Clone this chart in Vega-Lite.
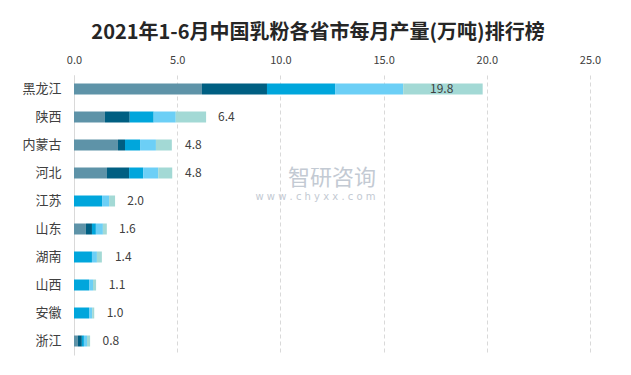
{
  "$schema": "https://vega.github.io/schema/vega-lite/v6.json",
  "width": 516,
  "height": 280,
  "autosize": {"type": "none"},
  "padding": {"left": 74, "top": 75, "right": 41, "bottom": 20},
  "background": "white",
  "config": {
    "font": "Noto Sans CJK SC",
    "view": {"stroke": null}
  },
  "title": {
    "text": "2021年1-6月中国乳粉各省市每月产量(万吨)排行榜",
    "font": "Noto Sans CJK SC",
    "fontSize": 20,
    "fontWeight": "bold",
    "color": "#262626",
    "anchor": "middle",
    "frame": "group",
    "dx": -14,
    "offset": 11
  },
  "datasets": {
    "parts": [
      {"province": "黑龙江", "month": "1-2月", "value": 6.2},
      {"province": "黑龙江", "month": "3月", "value": 3.15},
      {"province": "黑龙江", "month": "4月", "value": 3.3},
      {"province": "黑龙江", "month": "5月", "value": 3.3},
      {"province": "黑龙江", "month": "6月", "value": 3.85},
      {"province": "陕西", "month": "1-2月", "value": 1.5},
      {"province": "陕西", "month": "3月", "value": 1.2},
      {"province": "陕西", "month": "4月", "value": 1.16},
      {"province": "陕西", "month": "5月", "value": 1.07},
      {"province": "陕西", "month": "6月", "value": 1.47},
      {"province": "内蒙古", "month": "1-2月", "value": 2.13},
      {"province": "内蒙古", "month": "3月", "value": 0.34},
      {"province": "内蒙古", "month": "4月", "value": 0.73},
      {"province": "内蒙古", "month": "5月", "value": 0.77},
      {"province": "内蒙古", "month": "6月", "value": 0.77},
      {"province": "河北", "month": "1-2月", "value": 1.6},
      {"province": "河北", "month": "3月", "value": 1.07},
      {"province": "河北", "month": "4月", "value": 0.68},
      {"province": "河北", "month": "5月", "value": 0.73},
      {"province": "河北", "month": "6月", "value": 0.68},
      {"province": "江苏", "month": "1-2月", "value": 0},
      {"province": "江苏", "month": "3月", "value": 0},
      {"province": "江苏", "month": "4月", "value": 1.36},
      {"province": "江苏", "month": "5月", "value": 0.34},
      {"province": "江苏", "month": "6月", "value": 0.29},
      {"province": "山东", "month": "1-2月", "value": 0.58},
      {"province": "山东", "month": "3月", "value": 0.29},
      {"province": "山东", "month": "4月", "value": 0.19},
      {"province": "山东", "month": "5月", "value": 0.34},
      {"province": "山东", "month": "6月", "value": 0.19},
      {"province": "湖南", "month": "1-2月", "value": 0},
      {"province": "湖南", "month": "3月", "value": 0},
      {"province": "湖南", "month": "4月", "value": 0.87},
      {"province": "湖南", "month": "5月", "value": 0.24},
      {"province": "湖南", "month": "6月", "value": 0.24},
      {"province": "山西", "month": "1-2月", "value": 0},
      {"province": "山西", "month": "3月", "value": 0},
      {"province": "山西", "month": "4月", "value": 0.73},
      {"province": "山西", "month": "5月", "value": 0.19},
      {"province": "山西", "month": "6月", "value": 0.15},
      {"province": "安徽", "month": "1-2月", "value": 0},
      {"province": "安徽", "month": "3月", "value": 0},
      {"province": "安徽", "month": "4月", "value": 0.73},
      {"province": "安徽", "month": "5月", "value": 0.15},
      {"province": "安徽", "month": "6月", "value": 0.1},
      {"province": "浙江", "month": "1-2月", "value": 0.19},
      {"province": "浙江", "month": "3月", "value": 0.19},
      {"province": "浙江", "month": "4月", "value": 0.1},
      {"province": "浙江", "month": "5月", "value": 0.15},
      {"province": "浙江", "month": "6月", "value": 0.15}
    ],
    "totals": [
      {"province": "黑龙江", "total": 19.8},
      {"province": "陕西", "total": 6.4},
      {"province": "内蒙古", "total": 4.8},
      {"province": "河北", "total": 4.8},
      {"province": "江苏", "total": 2.0},
      {"province": "山东", "total": 1.6},
      {"province": "湖南", "total": 1.4},
      {"province": "山西", "total": 1.1},
      {"province": "安徽", "total": 1.0},
      {"province": "浙江", "total": 0.8}
    ],
    "mark": [
      {"brand": "智研咨询", "site": "w w w . c h y x x . c o m"}
    ]
  },
  "layer": [
    {
      "data": {"name": "parts"},
      "mark": {"type": "bar", "height": 11},
      "encoding": {
        "y": {
          "field": "province",
          "type": "nominal",
          "sort": ["黑龙江", "陕西", "内蒙古", "河北", "江苏", "山东", "湖南", "山西", "安徽", "浙江"],
          "scale": {"paddingInner": 0.6, "paddingOuter": 0.3},
          "axis": {
            "title": null,
            "ticks": false,
            "domain": true,
            "domainColor": "#d9d9d9",
            "labelFontSize": 13,
            "labelColor": "#404040",
            "labelPadding": 13,
            "labelFont": "Noto Sans CJK SC"
          }
        },
        "x": {
          "field": "value",
          "type": "quantitative",
          "stack": "zero",
          "scale": {"domain": [0, 25], "nice": false},
          "axis": {
            "orient": "top",
            "title": null,
            "values": [0, 5, 10, 15, 20, 25],
            "format": ".1f",
            "ticks": false,
            "domain": false,
            "grid": true,
            "gridColor": "#d9d9d9",
            "gridDash": [4, 3],
            "labelFlush": false,
            "labelFontSize": 11,
            "labelColor": "#404040",
            "labelPadding": 10,
            "labelFont": "Noto Sans CJK SC"
          }
        },
        "color": {
          "field": "month",
          "type": "nominal",
          "scale": {
            "domain": ["1-2月", "3月", "4月", "5月", "6月"],
            "range": ["#5E93A8", "#005F82", "#00A6DC", "#6CCFF6", "#A3D9D5"]
          },
          "legend": null
        },
        "order": {"field": "month", "sort": "ascending"}
      }
    },
    {
      "data": {"name": "totals"},
      "transform": [{"filter": "datum.province !== '黑龙江'"}],
      "mark": {"type": "text", "align": "left", "baseline": "middle", "dx": 12, "fontSize": 12, "color": "#404040", "font": "Noto Sans CJK SC"},
      "encoding": {
        "y": {"field": "province", "type": "nominal", "sort": ["黑龙江", "陕西", "内蒙古", "河北", "江苏", "山东", "湖南", "山西", "安徽", "浙江"]},
        "x": {"field": "total", "type": "quantitative"},
        "text": {"field": "total", "type": "quantitative", "format": ".1f"}
      }
    },
    {
      "data": {"name": "totals"},
      "transform": [{"filter": "datum.province === '黑龙江'"}],
      "mark": {"type": "text", "align": "center", "baseline": "middle", "dx": -41, "fontSize": 12, "color": "#404040", "font": "Noto Sans CJK SC"},
      "encoding": {
        "y": {"field": "province", "type": "nominal", "sort": ["黑龙江", "陕西", "内蒙古", "河北", "江苏", "山东", "湖南", "山西", "安徽", "浙江"]},
        "x": {"field": "total", "type": "quantitative"},
        "text": {"field": "total", "type": "quantitative", "format": ".1f"}
      }
    },
    {
      "data": {"name": "mark"},
      "mark": {"type": "text", "align": "center", "baseline": "middle", "dy": 5, "fontSize": 22, "color": "#c3cad3", "font": "Noto Sans CJK SC"},
      "encoding": {
        "y": {"datum": "河北", "type": "nominal"},
        "x": {"datum": 12.5, "type": "quantitative"},
        "text": {"field": "brand"}
      }
    },
    {
      "data": {"name": "mark"},
      "mark": {"type": "text", "align": "center", "baseline": "middle", "dy": 24, "fontSize": 10, "color": "#c3cad3", "font": "DejaVu Sans"},
      "encoding": {
        "y": {"datum": "河北", "type": "nominal"},
        "x": {"datum": 11.7, "type": "quantitative"},
        "text": {"field": "site"}
      }
    }
  ]
}
